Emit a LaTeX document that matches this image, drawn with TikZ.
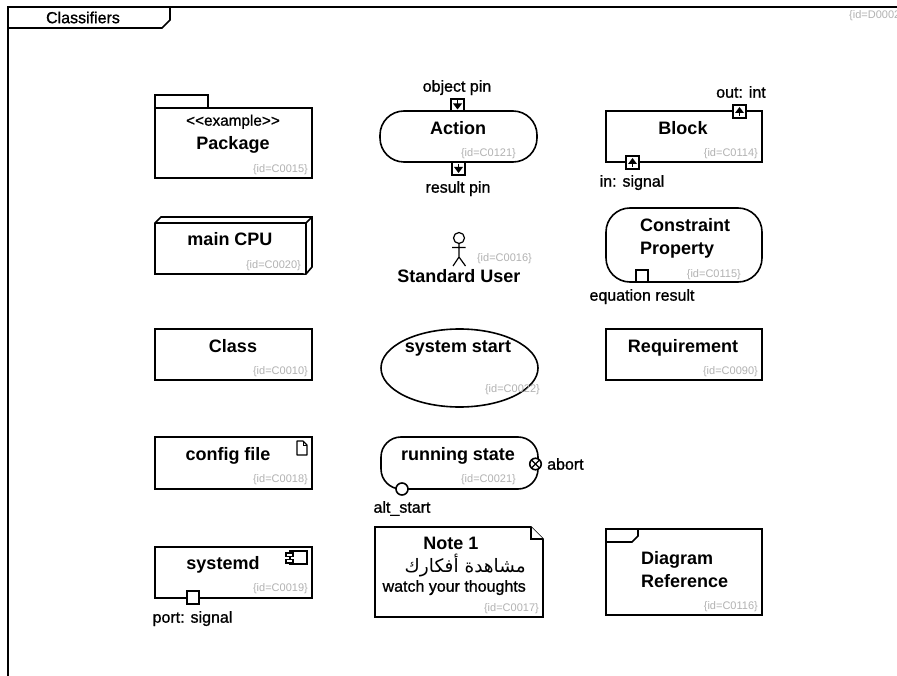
\documentclass[tikz,border=0pt]{standalone}
\usepackage{fontspec}
\setmainfont{Liberation Sans}
\newfontfamily\medfont[FakeBold=1]{Liberation Sans}
\newfontfamily\arabicfont[Script=Arabic]{DejaVu Sans}
\TeXXeTstate=1
\definecolor{idgray}{RGB}{178,178,178}
\usetikzlibrary{shapes.geometric}
\tikzset{
  shp/.style={draw=black,line width=1.6pt,fill=white,inner sep=0pt,outer sep=0pt},
  box/.style={shp,rectangle},
  pinbox/.style={shp,rectangle,minimum width=12.5pt,minimum height=12.5pt},
  title/.style={inner sep=0pt,yshift=-3.5pt,text height=.74em,text depth=.2em,font=\fontsize{18}{23}\selectfont\bfseries},
  label/.style={inner sep=0pt,yshift=-3pt,text height=.74em,text depth=.2em,font=\fontsize{16}{18}\selectfont\medfont},
  idtxt/.style={inner sep=0pt,yshift=-2pt,text height=.74em,text depth=.2em,text=idgray,anchor=east,font=\fontsize{11}{13}\selectfont},
}
\begin{document}
\begin{tikzpicture}[x=1pt,y=-1pt]
\useasboundingbox (0,0) rectangle (897,676);
\fill[white] (0,0) rectangle (897,676);
% frame
\draw[line width=1.6pt] (8,676) -- (8,7) -- (897,7);
\draw[line width=1.6pt] (170,7) -- (170,20) -- (162,28) -- (8,28);
\node[label] (frametitle) at (83,17.5) {Classifiers};
\node[idtxt,anchor=west] (idframe) at (849,14) {\{id=D0002\}};
% package
\node[box,minimum width=53pt,minimum height=13pt] (pkgtab) at (181.5,101.5) {};
\node[box,minimum width=157pt,minimum height=70pt] (pkg) at (233.5,143) {};
\node[label,font=\fontsize{15.3}{18}\selectfont\medfont] (pkgst) at (233,120) {<<example>>};
\node[title] (pkgname) at (233,143) {Package};
\node[idtxt] (id15) at (308,168) {\{id=C0015\}};
% node
\draw[shp] (155,223) -- (161,217) -- (312,217) -- (312,267) -- (306,274) -- (155,274) -- cycle;
\draw[shp] (155,223) -- (306,223) -- (306,274);
\draw[shp] (306,223) -- (312,217);
\node[title] (cpu) at (230,239) {main CPU};
\node[idtxt] (id20) at (301,264) {\{id=C0020\}};
% class
\node[box,minimum width=157pt,minimum height=51pt] (cls) at (233.5,354.5) {};
\node[title] (clsname) at (233,346) {Class};
\node[idtxt] (id10) at (308,370) {\{id=C0010\}};
% artifact
\node[box,minimum width=157pt,minimum height=52pt] (art) at (233.5,463) {};
\node[title] (artname) at (228,454) {config file};
\node[idtxt] (id18) at (308,478) {\{id=C0018\}};
\draw[line width=1.2pt,line join=round] (297,441) -- (303,441) -- (307,445) -- (307,455) -- (297,455) -- cycle;
\draw[line width=.9pt] (303,441) -- (303,445) -- (307,445);
% component
\node[box,minimum width=157pt,minimum height=51pt] (comp) at (233.5,572.5) {};
\node[title] (compname) at (223,563) {systemd};
\node[idtxt] (id19) at (308,587) {\{id=C0019\}};
\draw[line width=1.2pt] (290,551) rectangle (307,564);
\draw[line width=1.2pt,fill=white] (286,553) rectangle (293,556.5);
\draw[line width=1.2pt,fill=white] (286,559.5) rectangle (293,563);
\node[pinbox] (comppin) at (193,597.5) {};
\node[label] (portlbl) at (192.5,617) {port: signal};
% action
\node[shp,rectangle,rounded corners=24pt,minimum width=157pt,minimum height=51pt] (act) at (458.5,136.5) {};
\node[title] (actname) at (458,128) {Action};
\node[idtxt] (id121) at (516,152) {\{id=C0121\}};
\node[pinbox] (pin1) at (457.5,105) {};
\node[pinbox] (pin2) at (458.5,168.5) {};
\draw[line width=1.2pt] (457.5,100.5) -- (457.5,106);
\fill (453,103.5) -- (462,103.5) -- (457.5,109.5) -- cycle;
\draw[line width=1.2pt] (458.5,164) -- (458.5,169.5);
\fill (454,167) -- (463,167) -- (458.5,173) -- cycle;
\node[label] (pin1lbl) at (457,86) {object pin};
\node[label] (pin2lbl) at (458,187) {result pin};
% actor
\draw[line width=1.2pt] (459,238) circle (5.5);
\draw[line width=1.2pt] (459,243.5) -- (459,257) (452,247.5) -- (465.5,247.5) (453,266) -- (459,257) -- (465.5,266);
\node[title] (actor) at (459,276) {Standard User};
\node[idtxt] (id16) at (532,257) {\{id=C0016\}};
% use case
\node[shp,ellipse,minimum width=157pt,minimum height=78pt] (uc) at (459.5,368) {};
\node[title] (ucname) at (458,346) {system start};
\node[idtxt] (id22) at (540,388) {\{id=C0022\}};
% state
\node[shp,rectangle,rounded corners=20pt,minimum width=157pt,minimum height=52pt] (st) at (459.5,463) {};
\node[title] (stname) at (458,454) {running state};
\node[idtxt] (id21) at (516,478) {\{id=C0021\}};
\node[shp,circle,minimum size=12pt] (altp) at (402,489) {};
\node[shp,circle,minimum size=11.5pt] (abortp) at (535.5,464) {};
\draw[line width=1.2pt] (abortp.north west) -- (abortp.south east) (abortp.north east) -- (abortp.south west);
\node[label] (altlbl) at (402,507) {alt\_start};
\node[label,anchor=west] (abortlbl) at (547,464) {abort};
% note
\draw[shp,line join=miter] (375,527) -- (531,527) -- (543,539) -- (543,617) -- (375,617) -- cycle;
\draw[shp] (531,527) -- (531,539) -- (543,539);
\node[title] (notename) at (451,543) {Note 1};
\node[inner sep=0pt,anchor=east,font=\fontsize{18.5}{20}\selectfont\arabicfont] (notear) at (526,566) {\beginR مشاهدة أفكارك\endR};
\node[label,anchor=east] (noteen) at (526,586) {watch your thoughts};
\node[idtxt] (id17) at (539,607) {\{id=C0017\}};
% block
\node[box,minimum width=156pt,minimum height=51pt] (blk) at (684,136.5) {};
\node[title] (blkname) at (683,128) {Block};
\node[idtxt] (id114) at (758,152) {\{id=C0114\}};
\node[pinbox] (outp) at (739.5,111.5) {};
\node[pinbox] (inp) at (632.5,162.5) {};
\draw[line width=1.2pt] (739.5,110) -- (739.5,116);
\fill (735,113) -- (744,113) -- (739.5,107) -- cycle;
\draw[line width=1.2pt] (632.5,161) -- (632.5,167);
\fill (628,164) -- (637,164) -- (632.5,158) -- cycle;
\node[label] (outlbl) at (741,92) {out: int};
\node[label] (inlbl) at (632,181) {in: signal};
% constraint property
\node[shp,rectangle,rounded corners=24pt,minimum width=156pt,minimum height=74pt] (cp) at (684,245) {};
\node[title,anchor=north west,align=left,text height=,text depth=] (cpname) at (640,215) {Constraint\\Property};
\node[idtxt] (id115) at (741,273) {\{id=C0115\}};
\node[shp,rectangle,minimum width=12pt,minimum height=12pt] (cpp) at (642,276) {};
\node[label] (cplbl) at (642,295) {equation result};
% requirement
\node[box,minimum width=156pt,minimum height=51pt] (req) at (684,354.5) {};
\node[title] (reqname) at (683,346) {Requirement};
\node[idtxt] (id90) at (758,370) {\{id=C0090\}};
% diagram reference
\node[box,minimum width=156pt,minimum height=86pt] (ref) at (684,572) {};
\draw[line width=1.6pt] (606,542) -- (632,542) -- (638,536) -- (638,529);
\node[title,anchor=north west,align=left,text height=,text depth=] (refname) at (641,548) {Diagram\\Reference};
\node[idtxt] (id116) at (758,605) {\{id=C0116\}};
\end{tikzpicture}
\end{document}
